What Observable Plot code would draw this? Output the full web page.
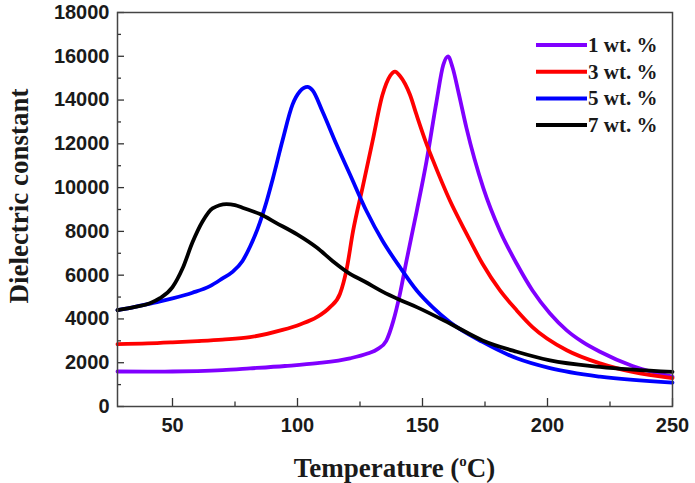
<!DOCTYPE html>
<html>
<head>
<meta charset="utf-8">
<script src="https://cdn.jsdelivr.net/npm/d3@7"></script>
<script src="https://cdn.jsdelivr.net/npm/@observablehq/plot@0.6"></script>
<style>
  html, body { margin: 0; padding: 0; background: #fff; }
  #chart svg { display: block; }
</style>
</head>
<body>
<div id="chart"></div>
<script>
// Dielectric constant vs. temperature for four filler loadings
const seriesNames = ["1 wt. %", "3 wt. %", "5 wt. %", "7 wt. %"];
const seriesColors = ["#8000ff", "#ff0000", "#0000ff", "#000000"];

const temp1 = [28, 40, 50, 60, 70, 81, 95, 108, 121, 128, 132, 135.5, 138.3, 141, 143.6, 147.7, 151.6, 155.6, 158.3, 160.2, 162, 164.5, 167.6, 174.3, 181, 187.7, 194, 201, 207.7, 214, 221, 234, 250];
const eps1  = [1600, 1590, 1600, 1620, 1660, 1740, 1850, 1980, 2200, 2420, 2620, 3000, 3900, 5160, 6660, 8930, 11200, 13930, 15600, 16000, 15500, 14300, 12720, 9990, 8020, 6520, 5300, 4250, 3480, 2950, 2500, 1850, 1360];

const temp3 = [28, 40, 50, 60, 70, 81, 94, 101, 107.7, 113, 117, 119.7, 122.2, 126, 130, 134, 137, 139, 141, 145, 147.6, 151.6, 154, 161, 167.6, 174, 181, 187.7, 194, 207.7, 221, 234, 250];
const eps3  = [2850, 2880, 2930, 2990, 3060, 3170, 3500, 3750, 4080, 4540, 5150, 6300, 8000, 9990, 12110, 14240, 15100, 15300, 15100, 14240, 13330, 12000, 11300, 9400, 7900, 6520, 5300, 4390, 3630, 2570, 1970, 1580, 1300];

const temp5 = [28, 35, 41, 45, 50, 58, 65, 70, 74, 78, 81, 84, 87.6, 90, 94, 98, 101, 104, 106, 110, 115.6, 121, 127.6, 134, 141, 147.7, 154, 161, 174, 187.7, 201, 221, 250];
const eps5  = [4400, 4550, 4700, 4800, 4940, 5200, 5500, 5850, 6150, 6650, 7300, 8100, 9350, 10350, 12150, 13790, 14400, 14600, 14450, 13480, 11970, 10600, 8930, 7570, 6360, 5300, 4540, 3850, 2950, 2200, 1750, 1360, 1090];

const temp7 = [28, 35, 41, 45, 50, 54, 58, 62, 66, 71.6, 75, 78, 85, 91.6, 100, 107.7, 114, 121, 127, 134, 141, 147.7, 161, 174, 187.7, 201, 221, 250];
const eps7  = [4400, 4550, 4720, 4950, 5450, 6300, 7500, 8450, 9050, 9250, 9200, 9080, 8790, 8380, 7850, 7260, 6650, 6060, 5700, 5250, 4870, 4540, 3790, 3020, 2500, 2110, 1810, 1580];

const xTicks = [50, 100, 150, 200, 250];
const xMinorTicks = [75, 125, 175, 225];
const yTicks = [0, 2000, 4000, 6000, 8000, 10000, 12000, 14000, 16000, 18000];
const yMinorTicks = [1000, 3000, 5000, 7000, 9000, 11000, 13000, 15000, 17000];

const xTitle = "Temperature (";
const xTitleSup = "o";
const xTitleEnd = "C)";
const yTitle = "Dielectric constant";

const allTemps = [temp1, temp3, temp5, temp7];
const allEps = [eps1, eps3, eps5, eps7];
const rows = allTemps.flatMap((ts, s) =>
  ts.map((t, i) => ({series: seriesNames[s], t, eps: allEps[s][i]}))
);

const W = 695, H = 483;
const sansFont = "'Liberation Sans', Arial, Helvetica, sans-serif";
const serifFont = "'Liberation Serif', 'Times New Roman', serif";

const chart = Plot.plot({
  width: W,
  height: H,
  marginLeft: 117,
  marginRight: 23,
  marginTop: 12,
  marginBottom: 77,
  style: {fontFamily: sansFont, fontSize: "20px", fontWeight: "bold", color: "#1a1a1a", background: "#fff"},
  x: {domain: [28, 250]},
  y: {domain: [0, 18000]},
  color: {domain: seriesNames, range: seriesColors},
  marks: [
    Plot.line(rows, {
      x: "t", y: "eps", z: "series", stroke: "series",
      strokeWidth: 3.8, curve: "monotone-x"
    }),
    // inward tick marks
    Plot.axisX({anchor: "bottom", ticks: xTicks, tickSize: -8, fill: "none", label: null, stroke: "#333", strokeWidth: 1.3}),
    Plot.axisX({anchor: "bottom", ticks: xMinorTicks, tickSize: -4.5, fill: "none", label: null, stroke: "#333", strokeWidth: 1.3}),
    Plot.axisY({anchor: "left", ticks: yTicks, tickSize: -7, fill: "none", label: null, stroke: "#333", strokeWidth: 1.3}),
    Plot.axisY({anchor: "left", ticks: yMinorTicks, tickSize: -4, fill: "none", label: null, stroke: "#333", strokeWidth: 1.3}),
    // tick labels
    Plot.axisX({anchor: "bottom", ticks: xTicks, tickSize: 0, tickPadding: 11, label: null, tickFormat: d3.format("d")}),
    Plot.axisY({anchor: "left", ticks: yTicks, tickSize: 0, tickPadding: 8, label: null, tickFormat: d3.format("d")}),
    Plot.frame({stroke: "#444", strokeWidth: 1.5})
  ]
});

document.getElementById("chart").appendChild(chart);

// Axis titles and legend
const svg = d3.select(chart);
const xs = chart.scale("x");
const plotLeft = xs.range[0], plotRight = xs.range[1];

const xt = svg.append("text")
  .attr("x", (plotLeft + plotRight) / 2)
  .attr("y", 477)
  .attr("text-anchor", "middle")
  .attr("font-family", serifFont)
  .attr("font-weight", "bold")
  .attr("font-size", 27)
  .attr("fill", "#1a1a1a");
xt.append("tspan").text(xTitle);
xt.append("tspan").attr("font-size", 15).attr("dy", -11).text(xTitleSup);
xt.append("tspan").attr("dy", 11).text(xTitleEnd);

svg.append("text")
  .attr("transform", "translate(28,196) rotate(-90)")
  .attr("text-anchor", "middle")
  .attr("font-family", serifFont)
  .attr("font-weight", "bold")
  .attr("font-size", 27)
  .attr("fill", "#1a1a1a")
  .text(yTitle);

const legend = svg.append("g").attr("transform", "translate(536,45)");
seriesNames.forEach((name, i) => {
  const g = legend.append("g").attr("transform", `translate(0,${i * 26.7})`);
  g.append("line").attr("x1", 0).attr("x2", 51).attr("y1", 0).attr("y2", 0)
    .attr("stroke", seriesColors[i]).attr("stroke-width", 4);
  g.append("text").attr("x", 52).attr("y", 7)
    .attr("text-anchor", "start")
    .attr("font-family", serifFont).attr("font-weight", "bold")
    .attr("font-size", 21).attr("fill", "#1a1a1a")
    .text(name);
});
</script>
</body>
</html>
